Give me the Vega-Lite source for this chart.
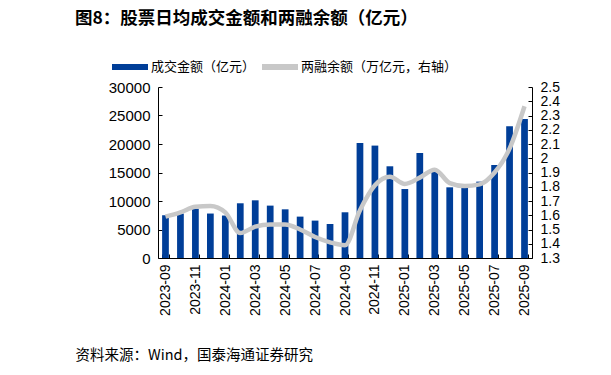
{
  "$schema": "https://vega.github.io/schema/vega-lite/v6.json",
  "width": 374,
  "height": 171,
  "autosize": {"type": "none"},
  "padding": {"left": 158, "top": 87, "right": 79, "bottom": 117},
  "background": "white",
  "config": {
    "view": {"stroke": null},
    "axis": {"grid": false, "domainColor": "#000", "tickColor": "#000", "labelColor": "#000", "labelFont": "Liberation Sans", "labelFontSize": 15, "tickSize": -4, "domainWidth": 1, "tickWidth": 1, "labelOverlap": false}
  },
  "title": {
    "text": "图8：股票日均成交金额和两融余额（亿元）",
    "anchor": "start",
    "frame": "group",
    "dx": -83,
    "dy": -18,
    "font": "Noto Sans CJK SC",
    "fontSize": 17.5,
    "fontWeight": "bold",
    "color": "#000"
  },
  "data": {
    "values": [
      {"month": "2023-09", "amount": 7500, "margin": 1.59},
      {"month": "2023-10", "amount": 7800, "margin": 1.62},
      {"month": "2023-11", "amount": 8650, "margin": 1.66},
      {"month": "2023-12", "amount": 7800, "margin": 1.665},
      {"month": "2024-01", "amount": 7450, "margin": 1.62},
      {"month": "2024-02", "amount": 9600, "margin": 1.475},
      {"month": "2024-03", "amount": 10120, "margin": 1.52},
      {"month": "2024-04", "amount": 9190, "margin": 1.535},
      {"month": "2024-05", "amount": 8540, "margin": 1.535},
      {"month": "2024-06", "amount": 7260, "margin": 1.50},
      {"month": "2024-07", "amount": 6560, "margin": 1.447},
      {"month": "2024-08", "amount": 5970, "margin": 1.41},
      {"month": "2024-09", "amount": 8020, "margin": 1.39},
      {"month": "2024-10", "amount": 20180, "margin": 1.635},
      {"month": "2024-11", "amount": 19720, "margin": 1.81},
      {"month": "2024-12", "amount": 16090, "margin": 1.87},
      {"month": "2025-01", "amount": 12100, "margin": 1.82},
      {"month": "2025-02", "amount": 18420, "margin": 1.864},
      {"month": "2025-03", "amount": 15090, "margin": 1.92},
      {"month": "2025-04", "amount": 12400, "margin": 1.826},
      {"month": "2025-05", "amount": 12300, "margin": 1.805},
      {"month": "2025-06", "amount": 13400, "margin": 1.817},
      {"month": "2025-07", "amount": 16320, "margin": 1.90},
      {"month": "2025-08", "amount": 23100, "margin": 2.068},
      {"month": "2025-09", "amount": 24390, "margin": 2.365}
    ]
  },
  "encoding": {
    "x": {
      "field": "month",
      "type": "ordinal",
      "sort": null,
      "scale": {"paddingInner": 0.55, "paddingOuter": 0.275},
      "axis": {
        "values": ["2023-09", "2023-11", "2024-01", "2024-03", "2024-05", "2024-07", "2024-09", "2024-11", "2025-01", "2025-03", "2025-05", "2025-07", "2025-09"],
        "labelAngle": 270,
        "labelFontSize": 14,
        "labelPadding": 10,
        "tickBand": "extent",
        "title": "资料来源：Wind，国泰海通证券研究",
        "titleFont": "Noto Sans CJK SC",
        "titleFontSize": 14.5,
        "titleFontWeight": "normal",
        "titleColor": "#000",
        "titleAnchor": "start",
        "titleAlign": "left",
        "titleBaseline": "middle",
        "titleX": -83,
        "titleY": 97
      }
    }
  },
  "layer": [
    {
      "mark": {"type": "bar"},
      "encoding": {
        "y": {
          "field": "amount",
          "type": "quantitative",
          "scale": {"domain": [0, 30000], "nice": false},
          "axis": {"orient": "left", "title": null, "values": [0, 5000, 10000, 15000, 20000, 25000, 30000], "format": "d", "labelPadding": 12}
        },
        "color": {
          "datum": "成交金额（亿元）",
          "type": "nominal",
          "scale": {"domain": ["成交金额（亿元）", "两融余额（万亿元，右轴）"], "range": ["#003e98", "#c8c8c8"]},
          "legend": {
            "title": null,
            "orient": "none",
            "direction": "horizontal",
            "legendX": -46,
            "legendY": -38,
            "symbolType": "M-1,-0.17H1V0.17H-1Z",
            "symbolSize": 1296,
            "symbolStrokeWidth": 0,
            "labelFont": "Noto Sans CJK SC",
            "labelFontSize": 13,
            "labelColor": "#000",
            "labelOffset": 3,
            "columnPadding": 6
          }
        }
      }
    },
    {
      "mark": {"type": "line", "interpolate": "monotone", "strokeWidth": 4.5},
      "encoding": {
        "y": {
          "field": "margin",
          "type": "quantitative",
          "scale": {"domain": [1.3, 2.5], "nice": false, "zero": false},
          "axis": {"orient": "right", "title": null, "values": [1.3, 1.4, 1.5, 1.6, 1.7, 1.8, 1.9, 2.0, 2.1, 2.2, 2.3, 2.4, 2.5], "format": "~g", "labelPadding": 12, "labelFontSize": 14}
        },
        "color": {"datum": "两融余额（万亿元，右轴）", "type": "nominal"}
      }
    }
  ],
  "resolve": {"scale": {"y": "independent"}}
}
